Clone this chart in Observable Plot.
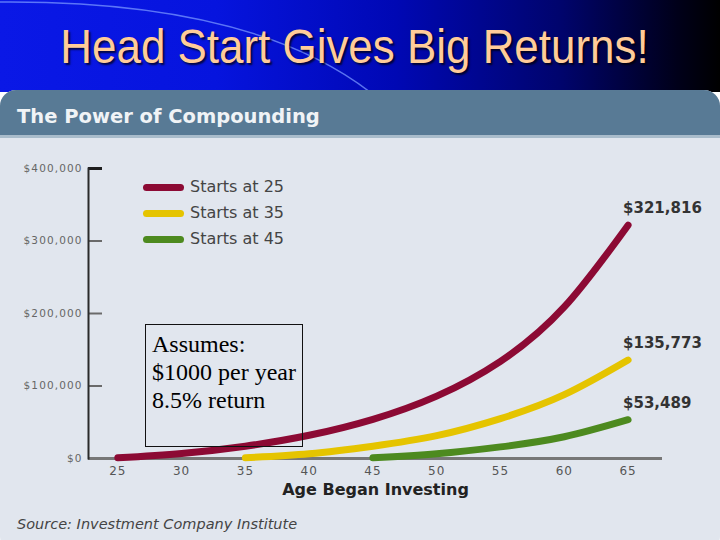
<!DOCTYPE html>
<html>
<head>
<meta charset="utf-8">
<script src="https://cdn.jsdelivr.net/npm/d3@7"></script>
<script src="https://cdn.jsdelivr.net/npm/@observablehq/plot@0.6"></script>
<style>
html,body{margin:0;padding:0;}
body{width:720px;height:540px;overflow:hidden;background:#fff;position:relative;font-family:"DejaVu Sans",sans-serif;}
#band{position:absolute;left:0;top:0;width:720px;height:92px;background:linear-gradient(90deg,#0a18e6 0%,#0614de 30%,#0008b4 55%,#00046c 78%,#00001a 94%,#000 100%);}
#arc{position:absolute;left:0;top:0;}
#title{position:absolute;left:0;top:23px;width:708px;text-align:center;line-height:48px;}
#title span{display:inline-block;font-family:"Liberation Sans",Arial,sans-serif;font-size:48px;color:#ffcc99;transform:scaleX(0.915);text-shadow:2px 2px 2px rgba(0,0,0,0.7);white-space:nowrap;}
#panel{position:absolute;left:0;top:90px;width:720px;height:462px;background:#e1e6ee;border-radius:16px;overflow:hidden;}
#header{position:absolute;left:0;top:0;width:720px;height:45px;background:#587a95;border-bottom:3px solid #a9bccb;}
#header span{position:absolute;left:17px;top:17px;line-height:20px;font-weight:bold;font-size:19.5px;color:#f0f3f6;white-space:nowrap;}
#chart{position:absolute;left:0;top:138px;}
#legend{position:absolute;left:0;top:0;}
.lrow{position:absolute;left:143px;}
.lsw{position:absolute;left:0;width:41px;height:7px;border-radius:4px;}
.ltx{position:absolute;left:47px;font-size:16px;line-height:18px;color:#444;white-space:nowrap;}
#box{position:absolute;left:145px;top:324px;width:158px;height:123px;box-sizing:border-box;border:1px solid #111;padding:5px 0 0 6px;font-family:"Liberation Serif","Times New Roman",serif;font-size:24px;line-height:28px;color:#000;white-space:nowrap;}
#caption{position:absolute;left:17px;top:516px;font-size:14.5px;line-height:16px;font-style:italic;color:#444;white-space:nowrap;}
</style>
</head>
<body>
<div id="band"></div>
<svg id="arc" width="720" height="92"><path d="M0,2 Q250,0 370,92" fill="none" stroke="rgba(120,150,255,0.75)" stroke-width="1.5"/></svg>
<div id="title"><span></span></div>
<div id="panel"><div id="header"><span></span></div></div>
<div id="chart"></div>
<div id="legend"></div>
<div id="box"></div>
<div id="caption"></div>
<script>
// ---- data ----
const titleText = "Head Start Gives Big Returns!";
const headerText = "The Power of Compounding";
const captionText = "Source: Investment Company Institute";
const xLabel = "Age Began Investing";
const assumptions = ["Assumes:", "$1000 per year", "8.5% return"];

const ages = [25, 30, 35, 40, 45, 50, 55, 60, 65];
const startsAt25 = [1000, 7000, 17000, 32000, 54000, 86000, 134000, 209000, 321816];
const startsAt35 = [1000, 6500, 17000, 31500, 55000, 88000, 135773];
const startsAt45 = [1000, 6500, 16000, 30000, 53489];
const seriesNames = ["Starts at 25", "Starts at 35", "Starts at 45"];
const seriesColors = ["#8c0a34", "#e5c400", "#4d8a1f"];
const yTicks = [0, 100000, 200000, 300000, 400000];
const xTicks = [25, 30, 35, 40, 45, 50, 55, 60, 65];

// ---- table ----
const rows = [];
[startsAt25, startsAt35, startsAt45].forEach((vals, i) => {
  const offset = ages.length - vals.length;
  vals.forEach((v, j) => rows.push({series: seriesNames[i], age: ages[offset + j], value: v}));
});

document.querySelector("#title span").textContent = titleText;
document.querySelector("#header span").textContent = headerText;
document.querySelector("#caption").textContent = captionText;
document.querySelector("#box").innerHTML = assumptions.map(s => `<div>${s}</div>`).join("");

const money = d => "$" + d3.format(",")(d);
const xDom = [22.7, 67.7];
const tickLen = 1.1;

const chart = Plot.plot({
  width: 720,
  height: 362,
  marginLeft: 88,
  marginRight: 58,
  marginTop: 30,
  marginBottom: 42,
  style: {background: "transparent", fontFamily: "DejaVu Sans, sans-serif", overflow: "visible"},
  x: {domain: xDom, label: null},
  y: {domain: [0, 400000], label: null},
  color: {domain: seriesNames, range: seriesColors},
  marks: [
    Plot.ruleY(yTicks.filter(d => d > 0 && d < 400000), {x1: xDom[0], x2: xDom[0] + tickLen, stroke: "#6a6a6a", strokeWidth: 2}),
    Plot.ruleY(yTicks.filter(d => d === 400000), {x1: xDom[0], x2: xDom[0] + tickLen, stroke: "#1e1e1e", strokeWidth: 3}),
    Plot.ruleY([0], {stroke: "#777", strokeWidth: 3}),
    Plot.frame({anchor: "left", stroke: "#2a2a2a", strokeWidth: 2}),
    Plot.axisY(yTicks, {tickSize: 0, tickPadding: 6, tickFormat: money, fontSize: 10.5, fill: "#666", label: null}),
    Plot.axisX(xTicks, {tickSize: 0, tickPadding: 8, fontSize: 12, fill: "#555", label: null}),
    Plot.text([xLabel], {frameAnchor: "bottom", dy: 36, fontWeight: "bold", fontSize: 16, fill: "#222"}),
    Plot.line(rows, {x: "age", y: "value", z: "series", stroke: "series", strokeWidth: 7, strokeLinecap: "round", curve: "natural"}),
    Plot.text(rows, Plot.selectLast({x: "age", y: "value", z: "series", text: d => money(d.value), textAnchor: "start", dx: -5, dy: -17, fontWeight: "bold", fontSize: 15, fill: "#333"}))
  ]
});
d3.select(chart).selectAll('g[aria-label="y-axis tick label"] text').attr("letter-spacing", "1.1");
d3.select(chart).selectAll('g[aria-label="x-axis tick label"] text').attr("letter-spacing", "1");
document.getElementById("chart").appendChild(chart);

// ---- legend ----
const legend = document.getElementById("legend");
const legendTop = 187, legendStep = 26;
seriesNames.forEach((name, i) => {
  const row = document.createElement("div");
  row.className = "lrow";
  row.style.top = (legendTop + i * legendStep) + "px";
  row.innerHTML = `<div class="lsw" style="top:-3.5px;background:${seriesColors[i]}"></div><div class="ltx" style="top:-9px">${name}</div>`;
  legend.appendChild(row);
});
</script>
</body>
</html>
